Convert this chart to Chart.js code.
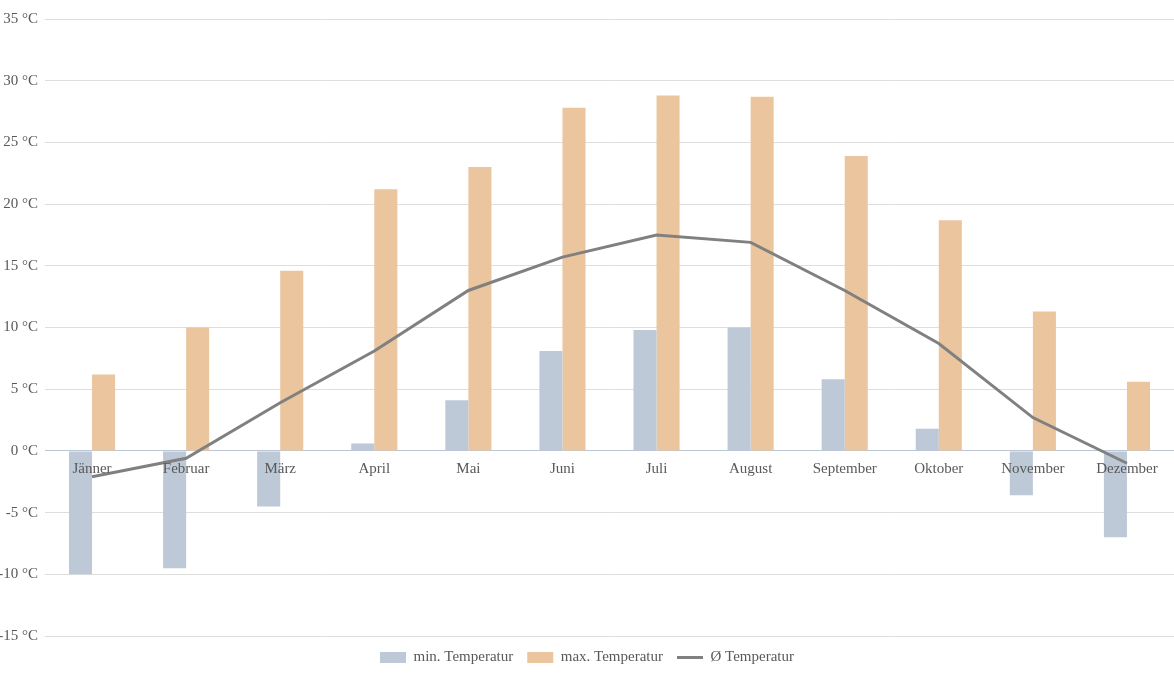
<!DOCTYPE html>
<html>
<head>
<meta charset="utf-8">
<script src="https://cdn.jsdelivr.net/npm/chart.js@4/dist/chart.umd.min.js"></script>
<style>
  html, body { margin: 0; padding: 0; background: #fff; }
  #wrap { width: 1174px; height: 675px; }
</style>
</head>
<body>
<div id="wrap"><canvas id="chart"></canvas></div>
<script>
const monate = ['Jänner', 'Februar', 'März', 'April', 'Mai', 'Juni', 'Juli', 'August', 'September', 'Oktober', 'November', 'Dezember'];
const minTemp = [-10.0, -9.5, -4.5, 0.6, 4.1, 8.1, 9.8, 10.0, 5.8, 1.8, -3.6, -7.0];
const maxTemp = [6.2, 10.0, 14.6, 21.2, 23.0, 27.8, 28.8, 28.7, 23.9, 18.7, 11.3, 5.6];
const avgTemp = [-2.1, -0.6, 3.9, 8.1, 13.0, 15.7, 17.5, 16.9, 13.0, 8.7, 2.7, -1.0];

const schrift = { family: '"Liberation Serif", "DejaVu Serif", serif', size: 15 };
const textFarbe = '#595959';

new Chart(document.getElementById('chart'), {
    type: 'bar',
    data: {
        labels: monate,
        datasets: [{
            label: 'min. Temperatur',
            data: minTemp,
            backgroundColor: '#bdc9d7',
            borderWidth: 0,
            pointStyle: 'rect'
        }, {
            label: 'max. Temperatur',
            data: maxTemp,
            backgroundColor: '#ebc59e',
            borderWidth: 0,
            pointStyle: 'rect'
        }, {
            type: 'line',
            label: 'Ø Temperatur',
            data: avgTemp,
            borderColor: '#808080',
            backgroundColor: '#808080',
            borderWidth: 3,
            tension: 0,
            pointRadius: 0,
            pointStyle: 'line',
            order: -1
        }]
    },
    options: {
        responsive: true,
        maintainAspectRatio: false,
        animation: false,
        layout: { padding: { top: 19, right: 0, bottom: 0, left: 0 } },
        datasets: {
            bar: { categoryPercentage: 0.49, barPercentage: 1 }
        },
        plugins: {
            tooltip: { enabled: false },
            legend: {
                position: 'bottom',
                labels: {
                    font: schrift,
                    color: textFarbe,
                    usePointStyle: true,
                    pointStyleWidth: 26,
                    boxHeight: 11,
                    padding: 14,
                    sort: (a, b) => a.datasetIndex - b.datasetIndex,
                    generateLabels: (chart) => {
                        const items = Chart.defaults.plugins.legend.labels.generateLabels(chart);
                        items.forEach(item => {
                            const ds = chart.data.datasets[item.datasetIndex];
                            item.pointStyle = ds.pointStyle;
                            if (ds.type === 'line') {
                                item.lineWidth = 3;
                                item.strokeStyle = '#808080';
                            } else {
                                item.lineWidth = 0;
                                item.strokeStyle = ds.backgroundColor;
                            }
                        });
                        return items;
                    }
                }
            }
        },
        scales: {
            x: {
                position: { y: 0 },
                grid: { display: false, drawTicks: false },
                border: { display: true, color: '#b9c5d5', width: 1 },
                ticks: { font: schrift, color: textFarbe, padding: 9, maxRotation: 0, z: 1 },
                afterFit: (scale) => { scale.height = 0; }
            },
            y: {
                min: -15,
                max: 35,
                ticks: {
                    stepSize: 5,
                    font: schrift,
                    color: textFarbe,
                    padding: 7,
                    callback: (v) => v + ' °C'
                },
                grid: {
                    drawTicks: false,
                    color: (ctx) => ctx.tick && ctx.tick.value === 0 ? '#b9c5d5' : '#dedede'
                },
                border: { display: false },
                afterFit: (scale) => { scale.width = 45; }
            }
        }
    }
});
</script>
</body>
</html>
